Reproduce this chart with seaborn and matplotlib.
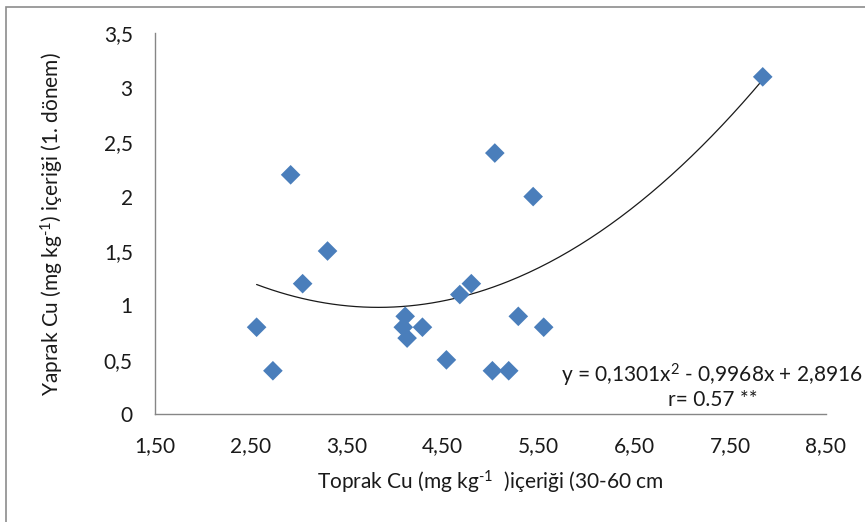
import matplotlib
matplotlib.use("Agg")
import matplotlib.pyplot as plt
import seaborn as sns
import numpy as np
import pandas as pd
from matplotlib.patches import Rectangle

# ---- data ----
toprak_cu = [2.56, 2.73, 2.915, 3.04, 3.30, 4.11, 4.09, 4.13, 4.29, 4.54,
             4.68, 4.80, 5.045, 5.02, 5.19, 5.29, 5.445, 5.555, 7.84]
yaprak_cu = [0.80, 0.40, 2.20, 1.20, 1.50, 0.90, 0.80, 0.70, 0.80, 0.50,
             1.10, 1.20, 2.40, 0.40, 0.40, 0.90, 2.00, 0.80, 3.10]

# trend line coefficients shown on the chart
coef_a, coef_b, coef_c = 0.1301, -0.9968, 2.8916

x_ticks = [1.5, 2.5, 3.5, 4.5, 5.5, 6.5, 7.5, 8.5]
x_tick_labels = ["1,50", "2,50", "3,50", "4,50", "5,50", "6,50", "7,50", "8,50"]
y_ticks = [0, 0.5, 1, 1.5, 2, 2.5, 3, 3.5]
y_tick_labels = ["0", "0,5", "1", "1,5", "2", "2,5", "3", "3,5"]

equation_text = "y = 0,1301x$^{2}$ - 0,9968x + 2,8916"
r_text = "r= 0.57 **"
x_label = "Toprak Cu (mg kg$^{\\text{-1}}$  )içeriği (30-60 cm"
y_label = "Yaprak Cu (mg kg$^{\\text{-1}}$) içeriği (1. dönem)"

sns.set_style("white")
plt.rcParams["font.family"] = ["Lato", "DejaVu Sans"]
plt.rcParams["mathtext.fontset"] = "custom"
plt.rcParams["mathtext.rm"] = "Lato"
plt.rcParams["mathtext.it"] = "Lato"
plt.rcParams["mathtext.default"] = "regular"

FS = 15
TXT = "#1a1a1a"

fig = plt.figure(figsize=(8.65, 5.22), dpi=100)
fig.patch.set_facecolor("white")
# outer chart frame
fig.patches.append(Rectangle((6 / 865, -0.05), 1.2, 1 - 7 / 522 + 0.05,
                             transform=fig.transFigure, fill=False,
                             edgecolor="#8c8c8c", linewidth=1.2))

ax = fig.add_axes([155 / 865, 1 - 414.3 / 522, (826 - 155) / 865, (414.3 - 33.3) / 522])

df = pd.DataFrame({"x": toprak_cu, "y": yaprak_cu})
xs = np.linspace(min(toprak_cu), max(toprak_cu), 200)
trend = pd.DataFrame({"x": xs, "y": coef_a * xs ** 2 + coef_b * xs + coef_c})

sns.scatterplot(data=df, x="x", y="y", ax=ax, marker="D", s=100,
                color="#4A7EBB", edgecolor="none", linewidth=0, zorder=3)
sns.lineplot(data=trend, x="x", y="y", ax=ax, color="#1a1a1a", linewidth=0.9,
             zorder=2)

ax.set_xlim(1.5, 8.5)
ax.set_ylim(0, 3.5)
ax.set_xticks(x_ticks)
ax.set_xticklabels(x_tick_labels)
ax.set_yticks(y_ticks)
ax.set_yticklabels(y_tick_labels)
ax.tick_params(axis="both", direction="out", length=6, width=1, color="#868686",
               labelsize=FS, labelcolor=TXT)
ax.tick_params(axis="y", pad=10)
ax.tick_params(axis="x", pad=10)
for side in ["top", "right"]:
    ax.spines[side].set_visible(False)
for side in ["left", "bottom"]:
    ax.spines[side].set_color("#868686")
    ax.spines[side].set_linewidth(1)

ax.set_xlabel(x_label, fontsize=FS, color=TXT)
ax.xaxis.set_label_coords(0.5, -(482.7 - 414.3) / 381.0)
ax.xaxis.label.set_va("center")
ax.set_ylabel(y_label, fontsize=FS, color=TXT)
ax.yaxis.set_label_coords(-(155 - 52) / 671.0, 0.5)
ax.yaxis.label.set_va("center")

fig.text(863 / 865, 1 - 375 / 522, equation_text, ha="right", va="center",
         fontsize=FS, color=TXT)
fig.text(713 / 865, 1 - 400 / 522, r_text, ha="center", va="center",
         fontsize=FS, color=TXT)

fig.savefig("out.png", dpi=100, facecolor="white")
